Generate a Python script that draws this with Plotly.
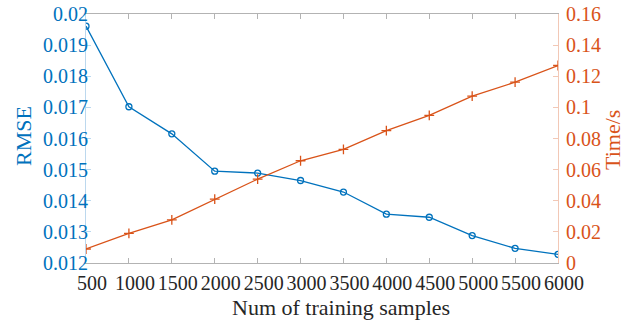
import plotly.graph_objects as go

samples = [500, 1000, 1500, 2000, 2500, 3000, 3500, 4000, 4500, 5000, 5500, 6000]
rmse = [0.01961, 0.01702, 0.01615, 0.01495, 0.01489, 0.01465, 0.01428, 0.01357, 0.01347, 0.01288, 0.01247, 0.01228]
time_s = [0.0090, 0.0191, 0.0277, 0.0410, 0.0539, 0.0657, 0.0730, 0.0851, 0.0949, 0.1072, 0.1162, 0.1269]

x_ticks = samples
y1_ticks = [0.012, 0.013, 0.014, 0.015, 0.016, 0.017, 0.018, 0.019, 0.02]
y1_labels = ["0.012", "0.013", "0.014", "0.015", "0.016", "0.017", "0.018", "0.019", "0.02"]
y2_ticks = [0, 0.02, 0.04, 0.06, 0.08, 0.1, 0.12, 0.14, 0.16]
y2_labels = ["0", "0.02", "0.04", "0.06", "0.08", "0.1", "0.12", "0.14", "0.16"]

blue = "#0072BD"
orange = "#D95319"
font = "Liberation Serif"

fig = go.Figure()
fig.add_trace(go.Scatter(x=samples, y=rmse, mode="lines+markers", yaxis="y",
                         line=dict(color=blue, width=1.3),
                         marker=dict(symbol="circle-open", size=6, color=blue, line=dict(width=1.3))))
fig.add_trace(go.Scatter(x=samples, y=time_s, mode="lines+markers", yaxis="y2",
                         line=dict(color=orange, width=1.3),
                         marker=dict(symbol="cross-thin-open", size=7, color=orange, line=dict(width=1.3, color=orange))))

fig.update_layout(
    width=636, height=323,
    margin=dict(l=86, r=78, t=14, b=60, autoexpand=False),
    paper_bgcolor="white", plot_bgcolor="white",
    showlegend=False,
    font=dict(family=font, size=20, color="#262626"),
    xaxis=dict(range=[500, 6000], tickvals=x_ticks, ticktext=[str(v) for v in x_ticks],
               automargin=False,
               showgrid=False, zeroline=False, showline=True, linecolor="#b3b3b3", linewidth=1,
               mirror="ticks", ticks="inside", ticklen=5, tickcolor="#b3b3b3",
               ticklabelstandoff=2, ticklabelshift=6,
               tickfont=dict(family=font, size=20, color="#262626")),
    yaxis=dict(range=[0.012, 0.02], tickvals=y1_ticks, ticktext=y1_labels,
               automargin=False,
               showgrid=False, zeroline=False, showline=True, linecolor="#bcd8ee", linewidth=1,
               ticks="inside", ticklen=5, tickcolor="#bcd8ee",
               ticklabelstandoff=-7,
               tickfont=dict(family=font, size=20, color=blue)),
    yaxis2=dict(range=[0, 0.16], tickvals=y2_ticks, ticktext=y2_labels, overlaying="y", side="right",
                automargin=False,
                showgrid=False, zeroline=False, showline=True, linecolor="#f2c8b6", linewidth=1,
                ticks="inside", ticklen=5, tickcolor="#f2c8b6",
                ticklabelstandoff=3,
                tickfont=dict(family=font, size=20, color=orange)),
    annotations=[
        dict(text="Num of training samples", xref="paper", yref="paper", x=0.540, y=-0.179,
             showarrow=False, xanchor="center", yanchor="middle",
             font=dict(family=font, size=22, color="#262626")),
        dict(text="RMSE", xref="paper", yref="paper", x=-0.1335, y=0.51, textangle=-90,
             showarrow=False, xanchor="center", yanchor="middle",
             font=dict(family=font, size=22, color=blue)),
        dict(text="Time/s", xref="paper", yref="paper", x=1.1165, y=0.494, textangle=-90,
             showarrow=False, xanchor="center", yanchor="middle",
             font=dict(family=font, size=22, color=orange)),
    ],
)

fig.write_html("out.html", config={"displayModeBar": False},
               post_script="document.body.style.margin='0';")
